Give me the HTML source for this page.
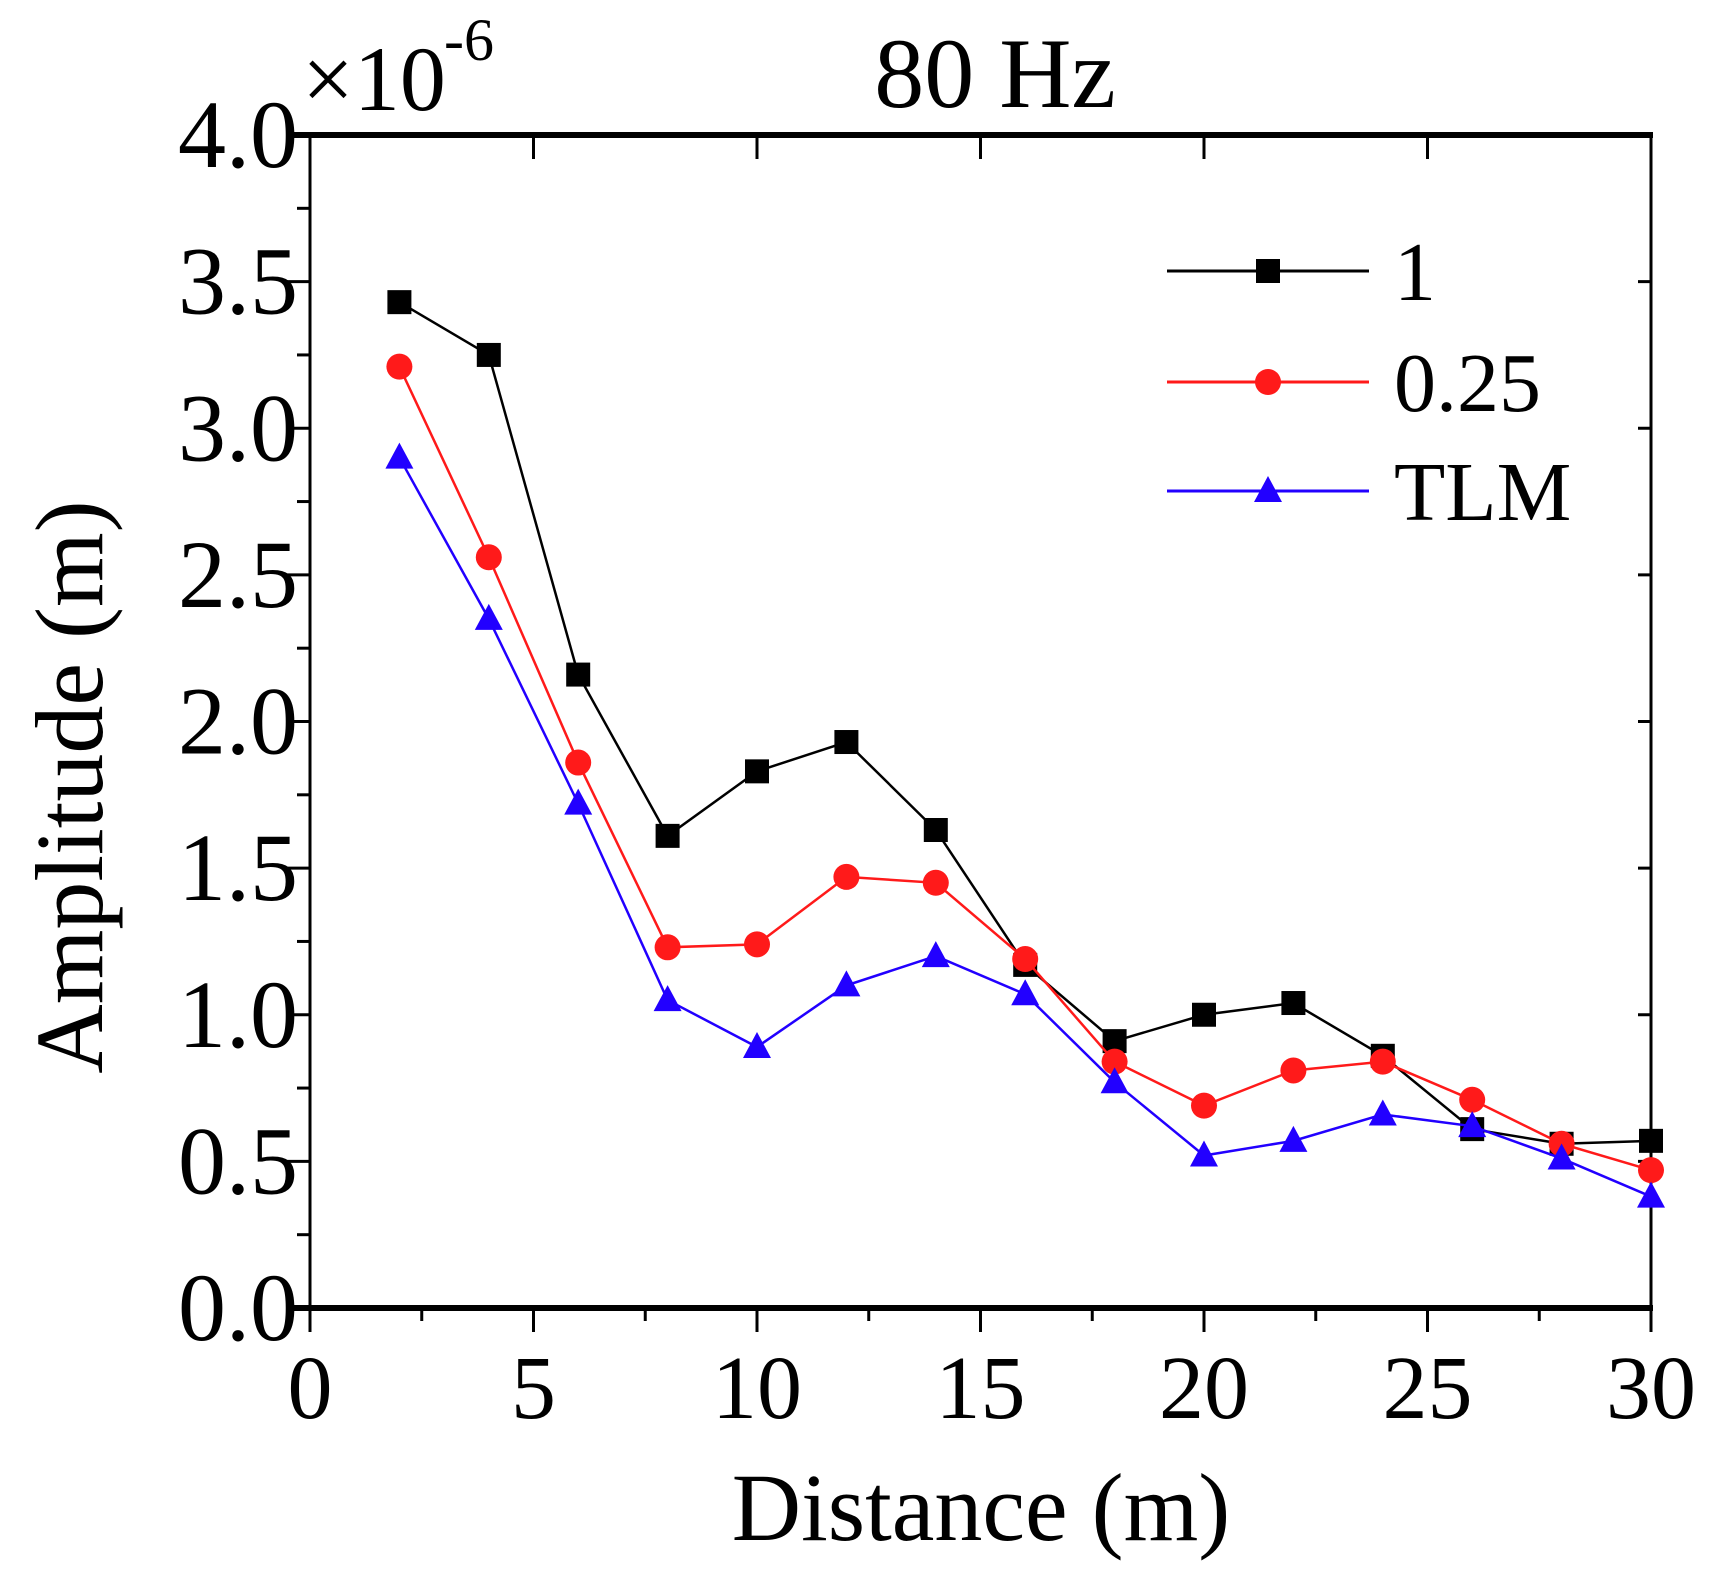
<!DOCTYPE html>
<html><head><meta charset="utf-8"><style>
html,body{margin:0;padding:0;background:#fff;}
svg text{font-family:"Liberation Serif",serif;fill:#000;}
</style></head><body>
<svg id="chart" width="1709" height="1581" xmlns="http://www.w3.org/2000/svg">
<g id="axes"></g><g id="series"></g><g id="legend"></g>
</svg>
<script>
const xCats=[2,4,6,8,10,12,14,16,18,20,22,24,26,28,30];
const series1=[3.43,3.25,2.16,1.61,1.83,1.93,1.63,1.17,0.91,1.00,1.04,0.86,0.61,0.56,0.57];
const series025=[3.21,2.56,1.86,1.23,1.24,1.47,1.45,1.19,0.84,0.69,0.81,0.84,0.71,0.56,0.47];
const seriesTLM=[2.90,2.35,1.72,1.05,0.89,1.10,1.20,1.07,0.77,0.52,0.57,0.66,0.62,0.51,0.38];
const xTicks=[0,5,10,15,20,25,30];
const yTicks=[0.0,0.5,1.0,1.5,2.0,2.5,3.0,3.5,4.0];
const L=310,R=1651,T=135,B=1308;
const X=v=>L+(v-0)/30*(R-L);
const Y=v=>B-(v-0)/4*(B-T);
const NS="http://www.w3.org/2000/svg";
function mk(tag,attrs,parent){const e=document.createElementNS(NS,tag);for(const k in attrs)e.setAttribute(k,attrs[k]);parent.appendChild(e);return e;}
const ax=document.getElementById('axes');
for(let i=0;i<=12;i++){const v=i*2.5,x=X(v),maj=i%2==0;
 let t=mk('line',{x1:x,x2:x,y1:B,y2:B+(maj?24:13),stroke:'#000','stroke-width':3},ax);
 
 let t2=mk('line',{x1:x,x2:x,y1:T,y2:T+(maj?24:0),stroke:'#000','stroke-width':3},ax);
 }
for(let i=0;i<=16;i++){const v=i*0.25,y=Y(v),maj=i%2==0;
 let t=mk('line',{x1:L,x2:L-(maj?24:13),y1:y,y2:y,stroke:'#000','stroke-width':3},ax);
 
 let t2=mk('line',{x1:R,x2:R-(maj?13:0),y1:y,y2:y,stroke:'#000','stroke-width':3},ax);
 }
let fr=mk('rect',{x:L,y:T,width:R-L,height:B-T,fill:'none',stroke:'#000','stroke-width':3},ax);

let bl=mk('line',{x1:L-24,x2:R+2,y1:B,y2:B,stroke:'#000','stroke-width':6},ax);

let tl=mk('line',{x1:L-24,x2:R+2,y1:T,y2:T,stroke:'#000','stroke-width':6},ax);

xTicks.forEach(v=>{let t=mk('text',{x:X(v),y:1418,'font-size':90,'text-anchor':'middle'},ax);t.textContent=v;
 });
yTicks.forEach(v=>{let t=mk('text',{x:298,y:Y(v)+32,'font-size':96,'text-anchor':'end'},ax);t.textContent=v.toFixed(1);
 });
let xt=mk('text',{x:981,y:1540,'font-size':96,'text-anchor':'middle'},ax);xt.textContent='Distance (m)';

let yt=mk('text',{x:0,y:0,'font-size':96,'text-anchor':'middle',transform:'translate(102,787) rotate(-90)'},ax);yt.textContent='Amplitude (m)';

let ti=mk('text',{x:995,y:107,'font-size':100,'text-anchor':'middle'},ax);ti.textContent='80 Hz';

let mu=mk('text',{x:302,y:110,'font-size':92},ax);mu.textContent='×10';

let ex=mk('text',{x:444,y:60,'font-size':60},ax);ex.textContent='-6';

const sg=document.getElementById('series');
function marker(kind,x,y,c,parent){
 if(kind=='sq')return mk('rect',{x:x-12,y:y-12,width:24,height:24,fill:c},parent);
 if(kind=='ci')return mk('circle',{cx:x,cy:y,r:13,fill:c},parent);
 return mk('polygon',{points:`${x},${y-15} ${x-14},${y+11} ${x+14},${y+11}`,fill:c},parent);}
const defs=[[series1,'#000','sq','series-1'],[series025,'#ff1a1a','ci','series-0-25'],[seriesTLM,'#2200ff','tr','series-tlm']];
defs.forEach(([data,c,k,n])=>{
 const g=mk('g',{},sg);
 const pl=mk('polyline',{points:data.map((v,i)=>X(xCats[i])+','+Y(v)).join(' '),fill:'none',stroke:c,'stroke-width':2.5},g);
 
 data.forEach((v,i)=>{const m=marker(k,X(xCats[i]),Y(v),c,g);
  });
});
const lg=document.getElementById('legend');

[['1','#000','sq',271],['0.25','#ff1a1a','ci',382],['TLM','#2200ff','tr',491]].forEach(([lab,c,k,y])=>{
 const g=mk('g',{},lg);
 mk('line',{x1:1167,x2:1369,y1:y,y2:y,stroke:c,'stroke-width':3},g);
 marker(k,1268,y,c,g);
 const t=mk('text',{x:1394,y:y+29,'font-size':84},g);t.textContent=lab;
 
});
</script>
</body></html>
